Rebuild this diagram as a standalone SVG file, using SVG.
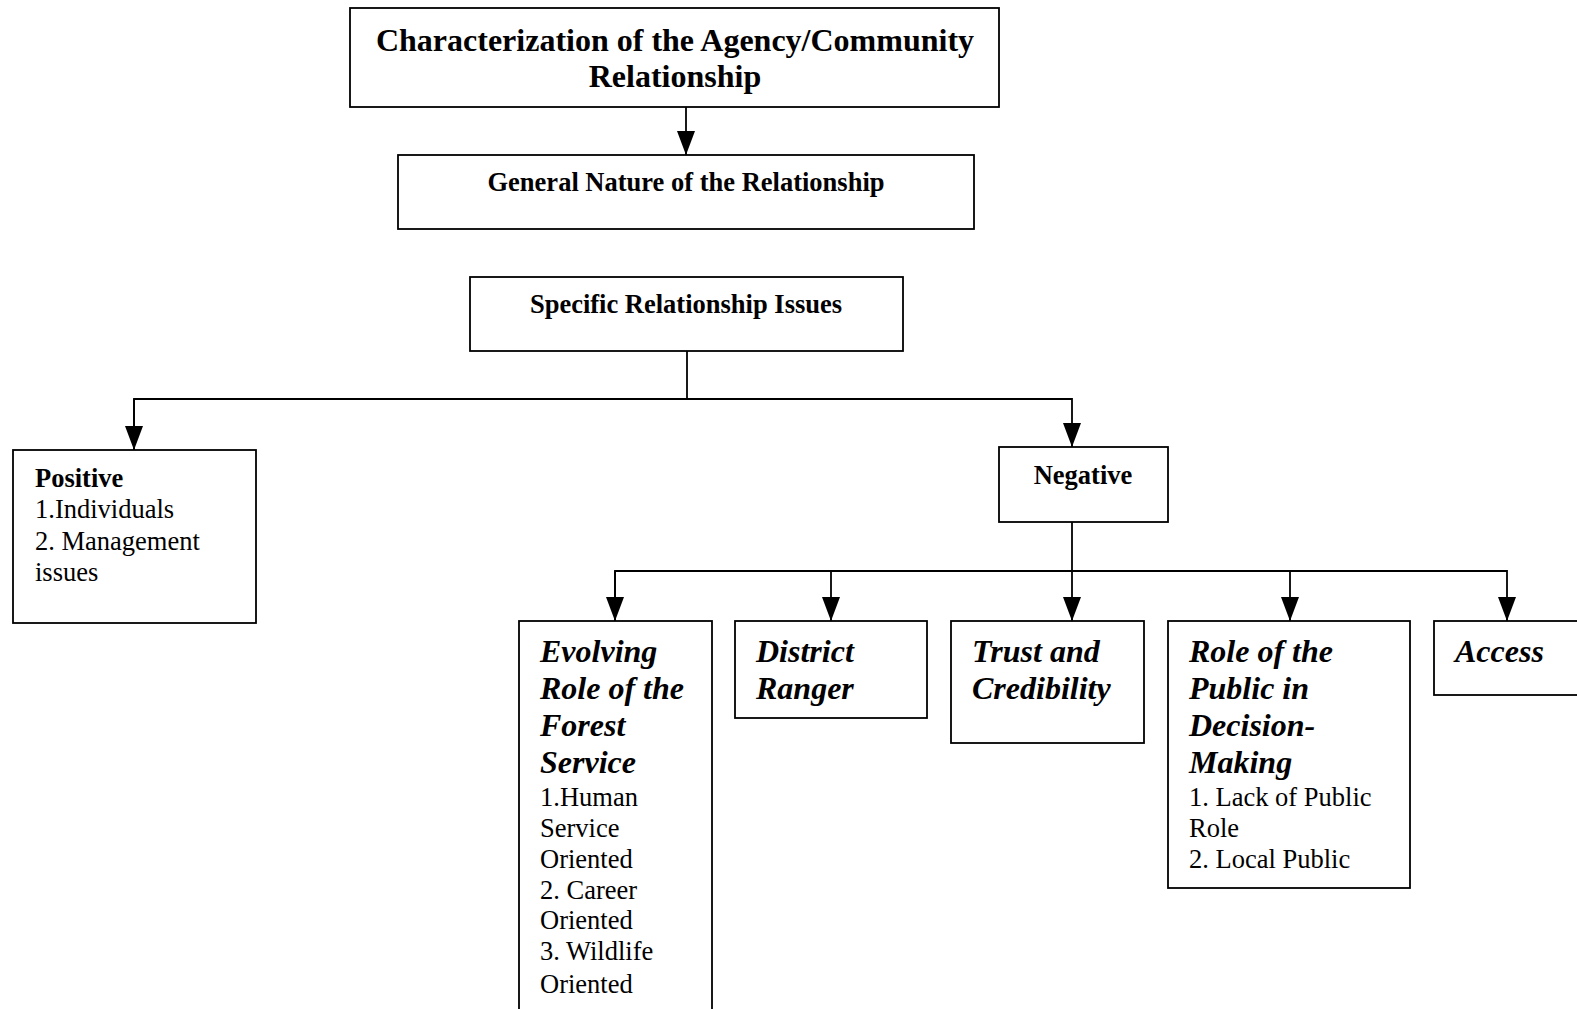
<svg xmlns="http://www.w3.org/2000/svg" width="1577" height="1009" viewBox="0 0 1577 1009">
<style>
  .box { fill: #ffffff; stroke: #000000; stroke-width: 1.8; }
  .conn { fill: none; stroke: #000000; stroke-width: 1.8; }
  text { font-family: "Liberation Serif", "Times New Roman", serif; fill: #000000; }
  .title { font-size: 32px; font-weight: bold; text-anchor: middle; }
  .head { font-size: 26.5px; font-weight: bold; }
  .mid { text-anchor: middle; }
  .bi { font-size: 32px; font-weight: bold; font-style: italic; }
  .body { font-size: 26.5px; }
</style>
<defs>
  <marker id="arrow" markerUnits="userSpaceOnUse" viewBox="0 0 24 18" markerWidth="24" markerHeight="18" refX="24" refY="9" orient="auto">
    <path d="M0,0 L24,9 L0,18 z" fill="#000000"/>
  </marker>
</defs>
<rect width="1577" height="1009" fill="#ffffff"/>

<g id="connectors">
  <line class="conn" x1="686" y1="107" x2="686" y2="155" marker-end="url(#arrow)"/>
  <polyline class="conn" points="687,351 687,399"/>
  <polyline class="conn" points="134,450 134,399 1072,399 1072,447" marker-end="url(#arrow)"/>
  <line class="conn" x1="134" y1="399" x2="134" y2="450" marker-end="url(#arrow)"/>
  <line class="conn" x1="1072" y1="522" x2="1072" y2="621" marker-end="url(#arrow)"/>
  <polyline class="conn" points="615,621 615,571 1507,571 1507,621" marker-end="url(#arrow)"/>
  <line class="conn" x1="615" y1="571" x2="615" y2="621" marker-end="url(#arrow)"/>
  <line class="conn" x1="831" y1="571" x2="831" y2="621" marker-end="url(#arrow)"/>
  <line class="conn" x1="1290" y1="571" x2="1290" y2="621" marker-end="url(#arrow)"/>
</g>

<g id="node-characterization">
  <rect class="box" x="350" y="8" width="649" height="99"/>
  <text class="title" x="675" y="51">Characterization of the Agency/Community</text>
  <text class="title" x="675" y="87">Relationship</text>
</g>

<g id="node-general">
  <rect class="box" x="398" y="155" width="576" height="74"/>
  <text class="head mid" x="686" y="191">General Nature of the Relationship</text>
</g>

<g id="node-specific">
  <rect class="box" x="470" y="277" width="433" height="74"/>
  <text class="head mid" x="686" y="313">Specific Relationship Issues</text>
</g>

<g id="node-positive">
  <rect class="box" x="13" y="450" width="243" height="173"/>
  <text class="head" x="35" y="487">Positive</text>
  <text class="body" x="35" y="518">1.Individuals</text>
  <text class="body" x="35" y="550">2. Management</text>
  <text class="body" x="35" y="581">issues</text>
</g>

<g id="node-negative">
  <rect class="box" x="999" y="447" width="169" height="75"/>
  <text class="head mid" x="1083" y="484">Negative</text>
</g>

<g id="node-evolving">
  <rect class="box" x="519" y="621" width="193" height="420"/>
  <text class="bi" x="540" y="662">Evolving</text>
  <text class="bi" x="540" y="699">Role of the</text>
  <text class="bi" x="540" y="736">Forest</text>
  <text class="bi" x="540" y="773">Service</text>
  <text class="body" x="540" y="806">1.Human</text>
  <text class="body" x="540" y="837">Service</text>
  <text class="body" x="540" y="868">Oriented</text>
  <text class="body" x="540" y="899">2. Career</text>
  <text class="body" x="540" y="929">Oriented</text>
  <text class="body" x="540" y="960">3. Wildlife</text>
  <text class="body" x="540" y="993">Oriented</text>
</g>

<g id="node-district">
  <rect class="box" x="735" y="621" width="192" height="97"/>
  <text class="bi" x="756" y="662">District</text>
  <text class="bi" x="756" y="699">Ranger</text>
</g>

<g id="node-trust">
  <rect class="box" x="951" y="621" width="193" height="122"/>
  <text class="bi" x="972" y="662">Trust and</text>
  <text class="bi" x="972" y="699">Credibility</text>
</g>

<g id="node-role">
  <rect class="box" x="1168" y="621" width="242" height="267"/>
  <text class="bi" x="1189" y="662">Role of the</text>
  <text class="bi" x="1189" y="699">Public in</text>
  <text class="bi" x="1189" y="736">Decision-</text>
  <text class="bi" x="1189" y="773">Making</text>
  <text class="body" x="1189" y="806">1. Lack of Public</text>
  <text class="body" x="1189" y="837">Role</text>
  <text class="body" x="1189" y="868">2. Local Public</text>
</g>

<g id="node-access">
  <rect class="box" x="1434" y="621" width="170" height="74"/>
  <text class="bi" x="1455" y="662">Access</text>
</g>
</svg>
